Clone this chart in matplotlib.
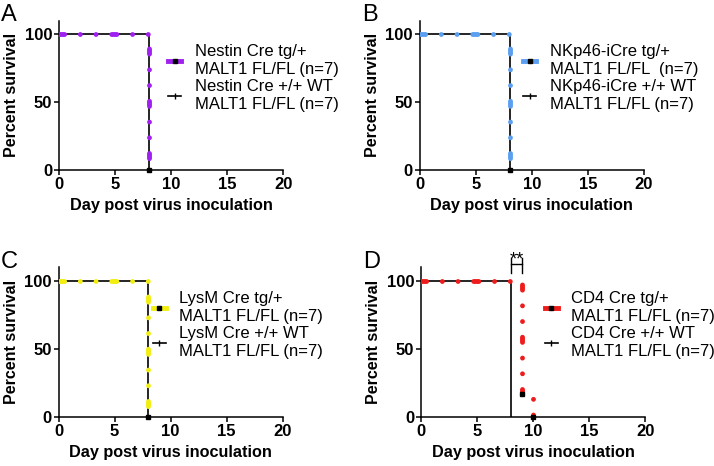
import matplotlib
matplotlib.use("Agg")
import matplotlib.pyplot as plt
from matplotlib.lines import Line2D

plt.rcParams["font.family"] = ["Liberation Sans", "DejaVu Sans"]
plt.rcParams["lines.scale_dashes"] = False

# survival data (day, percent) for each panel
panels = ["A", "B", "C", "D"]
tg_days = [[0, 8], [0, 8], [0, 8], [0, 9, 10]]
tg_surv = [[100, 0], [100, 0], [100, 0], [100, 16.7, 0]]
wt_days = [[0, 8], [0, 8], [0, 8], [0, 8]]
wt_surv = [[100, 0], [100, 0], [100, 0], [100, 0]]
colors = ["#a020f0", "#5b9ff0", "#f2ee10", "#ee1c1c"]
tg_labels = ["Nestin Cre tg/+\nMALT1 FL/FL (n=7)",
             "NKp46-iCre tg/+\nMALT1 FL/FL  (n=7)",
             "LysM Cre tg/+\nMALT1 FL/FL (n=7)",
             "CD4 Cre tg/+\nMALT1 FL/FL (n=7)"]
wt_labels = ["Nestin Cre +/+ WT\nMALT1 FL/FL (n=7)",
             "NKp46-iCre +/+ WT\nMALT1 FL/FL (n=7)",
             "LysM Cre +/+ WT\nMALT1 FL/FL (n=7)",
             "CD4 Cre +/+ WT\nMALT1 FL/FL (n=7)"]
xticks = [0, 5, 10, 15, 20]
yticks = [0, 50, 100]

fig = plt.figure(figsize=(7.14, 4.66), dpi=100)
boxes = [(0.083, 0.635), (0.588, 0.635), (0.082, 0.105), (0.590, 0.105)]
leg_x = [0.485, 0.46, 0.42, 0.55]
dash = (0, (3.7, 11.3, 0.01, 11.3, 0.01, 11.3))

for i in range(4):
    ax = fig.add_axes([boxes[i][0], boxes[i][1], 0.314, 0.321])
    ax.step(wt_days[i], wt_surv[i], where="post", color="black", lw=1.2, zorder=3)
    ax.step(tg_days[i], tg_surv[i], where="post", color=colors[i], lw=3.5,
            linestyle=dash, dash_capstyle="round", zorder=4)
    ax.plot(tg_days[i][1:], tg_surv[i][1:], "s", color="black", ms=3, zorder=5,
            clip_on=False)
    ax.set_xlim(0, 20)
    ax.set_ylim(0, 110)
    ax.set_xticks(xticks)
    ax.set_yticks(yticks)
    for s in ["top", "right"]:
        ax.spines[s].set_visible(False)
    for s in ["left", "bottom"]:
        ax.spines[s].set_linewidth(1.1)
    ax.tick_params(width=1.1, length=3.5, labelsize=12, pad=1.5)
    for lab in ax.get_xticklabels() + ax.get_yticklabels():
        lab.set_fontweight("bold")
    ax.set_xlabel("Day post virus inoculation", fontsize=11.7, fontweight="bold", labelpad=4)
    ax.set_ylabel("Percent survival", fontsize=11.5, fontweight="bold", labelpad=4)

    h1 = (Line2D([], [], color=colors[i], lw=3.5),
          Line2D([], [], color="black", marker="s", ms=2.5, lw=0))
    h2 = Line2D([], [], color="black", lw=1.2, marker="|", ms=4)
    leg = ax.legend([h1, h2], [tg_labels[i], wt_labels[i]], loc="upper left",
                    bbox_to_anchor=(leg_x[i], 0.843), frameon=False, fontsize=12,
                    handlelength=0.8, handletextpad=0.8, labelspacing=0.14,
                    borderpad=0, borderaxespad=0)
    for t in leg.get_texts():
        t.set_linespacing(1.24)

    fig.text(boxes[i][0] - 0.081, boxes[i][1] + 0.31, panels[i], fontsize=17,
             ha="left", va="bottom")

    if panels[i] == "D":
        ax.plot([8, 9], [112.5, 112.5], color="black", lw=1, clip_on=False)
        ax.plot([8, 8], [106, 117], color="black", lw=1, clip_on=False)
        ax.plot([9, 9], [106, 117], color="black", lw=1, clip_on=False)
        ax.text(8.5, 109, "**", ha="center", va="bottom", fontsize=13, clip_on=False)

fig.savefig("out.png", dpi=100)
